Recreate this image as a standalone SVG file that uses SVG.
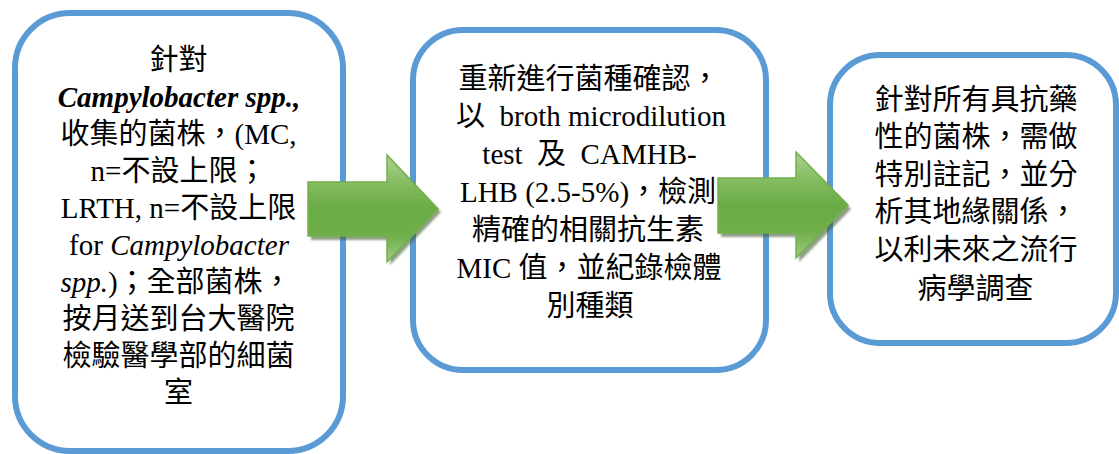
<svg xmlns="http://www.w3.org/2000/svg" width="1119" height="454" viewBox="0 0 1119 454">
  <style>
    .box { fill: #ffffff; stroke: #5b9bd5; stroke-width: 6; }
    .t { font-family: "Liberation Serif", "Noto Sans CJK TC", serif; font-size: 29px; fill: #000000; text-anchor: middle; }
    .bi { font-weight: bold; font-style: italic; }
    .i { font-style: italic; }
    .arrow { fill: url(#greenFill); stroke: #74b04c; stroke-width: 1.5; stroke-linejoin: miter; }
    .shadow { fill: #3f5f33; opacity: 0.6; }
  </style>
  <defs>
    <linearGradient id="greenFill" x1="0" y1="0" x2="0" y2="1">
      <stop offset="0" stop-color="#a9d18e"/>
      <stop offset="0.3" stop-color="#80b95c"/>
      <stop offset="0.5" stop-color="#6aab45"/>
      <stop offset="0.75" stop-color="#6fae49"/>
      <stop offset="1" stop-color="#a0cd83"/>
    </linearGradient>
    <filter id="soft" x="-10%" y="-10%" width="120%" height="120%">
      <feGaussianBlur stdDeviation="0.8"/>
    </filter>
  </defs>

  <rect width="1119" height="454" fill="#ffffff"/>

  <!-- Step 1: collection -->
  <g id="node-collect">
    <rect class="box" x="15" y="13" width="328" height="438" rx="55" ry="55"/>
    <text class="t" x="178.5" y="70">針對</text>
    <text class="t bi" x="179" y="107">Campylobacter spp.,</text>
    <text class="t" x="178.5" y="144">收集的菌株，(MC,</text>
    <text class="t" x="178.5" y="181">n=不設上限；</text>
    <text class="t" x="178.5" y="218">LRTH, n=不設上限</text>
    <text class="t" x="179" y="255">for <tspan class="i">Campylobacter</tspan></text>
    <text class="t" x="176" y="292"><tspan class="i">spp.</tspan>)；全部菌株，</text>
    <text class="t" x="178.5" y="329">按月送到台大醫院</text>
    <text class="t" x="178.5" y="366">檢驗醫學部的細菌</text>
    <text class="t" x="178.5" y="403">室</text>
  </g>

  <!-- Step 2: identification and MIC testing -->
  <g id="node-test">
    <rect class="box" x="413" y="30" width="353" height="340" rx="50" ry="50"/>
    <text class="t" x="589" y="89">重新進行菌種確認，</text>
    <text class="t" x="591" y="126">以&#160;&#160;broth microdilution</text>
    <text class="t" x="589.5" y="164">test&#160;&#160;及&#160;&#160;CAMHB-</text>
    <text class="t" x="588" y="202">LHB (2.5-5%)，檢測</text>
    <text class="t" x="588" y="240">精確的相關抗生素</text>
    <text class="t" x="589" y="278">MIC 值，並紀錄檢體</text>
    <text class="t" x="590" y="316">別種類</text>
  </g>

  <!-- Step 3: resistant strain follow-up -->
  <g id="node-followup">
    <rect class="box" x="830" y="55" width="286" height="288" rx="50" ry="50"/>
    <text class="t" x="976" y="110">針對所有具抗藥</text>
    <text class="t" x="976" y="147">性的菌株，需做</text>
    <text class="t" x="976" y="185">特別註記，並分</text>
    <text class="t" x="976" y="222">析其地緣關係，</text>
    <text class="t" x="976" y="260">以利未來之流行</text>
    <text class="t" x="975.5" y="299">病學調查</text>
  </g>

  <!-- Block arrows between steps -->
  <g id="connectors">
    <g id="arrow-1">
      <polygon class="shadow" filter="url(#soft)" points="311,186 390,186 390,159 441,212 390,265 390,240 311,240"/>
      <polygon class="arrow" points="308,182 387,182 387,155 438,209 387,262 387,236 308,236"/>
    </g>
    <g id="arrow-2">
      <polygon class="shadow" filter="url(#soft)" points="721,182 799,182 799,156 851,209 799,262 799,237 721,237"/>
      <polygon class="arrow" points="718,178 796,178 796,152 848,205 796,258 796,233 718,233"/>
    </g>
  </g>
</svg>
